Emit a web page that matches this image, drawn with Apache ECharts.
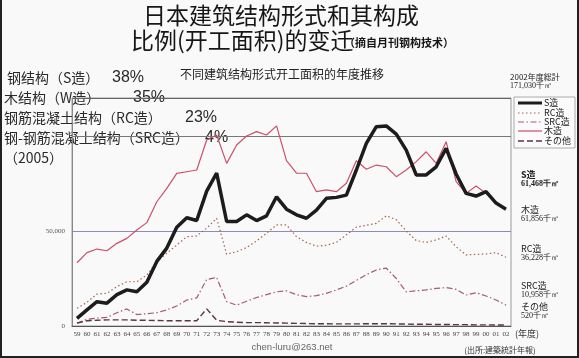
<!DOCTYPE html>
<html><head><meta charset="utf-8">
<script src="https://cdn.jsdelivr.net/npm/echarts@6/dist/echarts.min.js"></script>
<style>html,body{margin:0;padding:0;background:#f9f9f9}#c{width:579px;height:358px}</style>
</head><body><div id="c"></div>
<script>
const years = ['59','60','61','62','63','64','65','66','67','68','69','70','71','72','73','74','75','76','77','78','79','80','81','82','83','84','85','86','87','88','89','90','91','92','93','94','95','96','97','98','99','00','01','02'];
const steelS = [4000,8500,12800,12000,16500,19000,18000,23000,34000,41000,52000,57000,55500,71000,80500,55000,55000,58500,55500,58000,68000,61500,58500,56700,61000,67200,67700,68900,82100,96100,104900,105300,101000,92600,79500,79500,83800,93500,80000,69800,68400,70700,64700,61500];
const woodW = [33300,38600,40500,39600,43500,46100,50500,54400,65400,72400,80300,81200,82100,97900,100500,85600,95300,100000,102300,100500,105300,87000,80400,80400,70700,71600,70700,75100,87000,82500,84700,83800,78600,82100,86500,91700,85600,97000,76000,69800,73700,69800,64600,61900];
const rcValues = [9300,12500,16800,17200,20700,23300,23300,26800,33800,38300,42600,47000,47400,51500,56700,37800,39100,41300,44800,48800,53200,53200,47000,44000,42000,42500,44000,48000,52000,53000,54000,58000,56000,50000,45000,44000,45300,47400,41700,37400,37700,37900,38600,36200];
const srcValues = [1500,3500,4200,4500,7000,9000,6000,6500,7000,8500,10500,13700,14800,24500,25500,12800,11000,13000,15000,16500,18000,18500,16500,15500,16000,17200,19000,21000,24000,27000,29500,30500,25000,18000,18500,19000,19800,20200,19300,16300,17500,15800,13700,11000];
const otherValues = [1500,2800,3000,3200,3200,3200,3000,3000,2900,2800,2800,2800,2800,9000,3000,2300,2000,1800,1800,1700,1600,1500,1400,1300,1200,1200,1100,1100,1100,1200,1200,1200,1100,1000,900,900,800,800,700,700,600,600,550,520];
const seriesNames = ['S造','RC造','SRC造','木造','その他'];
const yTickLabels = {0:'0', 50000:'50,000'};
const endLabels = [
  ['S造','61,468千㎡'],
  ['木造','61,856千㎡'],
  ['RC造','36,228千㎡'],
  ['SRC造','10,958千㎡'],
  ['その他','520千㎡']
];
const leftNotes = [
  ['钢结构（S造）','38%'],
  ['木结构（W造）','35%'],
  ['钢筋混凝土结构（RC造）','23%'],
  ['钢-钢筋混凝土结构（SRC造）','4%'],
  ['（2005）','']
];

const styles = {
  'S造':   {color:'#1c1c1c', width:3.5, type:'solid'},
  'RC造':  {color:'#a8624e', width:1.2, type:[1.5,2.5]},
  'SRC造': {color:'#a55a72', width:1.2, type:[6,2.5,1.5,2.5]},
  '木造':  {color:'#cc4f6b', width:1.2, type:'solid'},
  'その他':{color:'#5d3346', width:1.4, type:[6,3]}
};

const chart = echarts.init(document.getElementById('c'));
const cjk = '"Noto Sans CJK SC", "Noto Sans", sans-serif';
const jp = '"Noto Sans CJK JP", sans-serif';
const serif = '"Liberation Serif", "DejaVu Serif", serif';

const graphics = [];
graphics.push({type:'line', shape:{x1:1,y1:0,x2:1,y2:357}, style:{stroke:'#222',lineWidth:2}});
graphics.push({type:'line', shape:{x1:578,y1:0,x2:578,y2:357}, style:{stroke:'#222',lineWidth:2}});
graphics.push({type:'line', shape:{x1:0,y1:357,x2:579,y2:357}, style:{stroke:'#222',lineWidth:2}});
graphics.push({type:'text', style:{text:'日本建筑结构形式和其构成', x:281, y:15, font:'23px '+cjk, fill:'#161616', align:'center', verticalAlign:'middle'}});
graphics.push({type:'text', style:{text:'比例(开工面积)的变迁', x:131, y:40, font:'23px '+cjk, fill:'#161616', align:'left', verticalAlign:'middle'}});
graphics.push({type:'text', style:{text:'（摘自月刊钢构技术）', x:344, y:43, font:'bold 11px '+cjk, fill:'#161616', align:'left', verticalAlign:'middle'}});
const noteY = [78, 98, 118, 138, 158];
const pctX = [112, 133, 185, 205, 0];
leftNotes.forEach((n,i)=>{
  graphics.push({type:'text', style:{text:n[0], x:i===0?7:4, y:noteY[i], font:'14px '+cjk, fill:'#2a2a2a', align:'left', verticalAlign:'middle'}});
  if(n[1]) graphics.push({type:'text', style:{text:n[1], x:pctX[i], y:noteY[i], font:'16px "Liberation Sans", sans-serif', fill:'#2a2a2a', align:'left', verticalAlign:'middle'}});
});
graphics.push({type:'text', style:{text:'不同建筑结构形式开工面积的年度推移', x:180, y:74, font:'12px '+jp, fill:'#222', align:'left', verticalAlign:'middle'}});
graphics.push({type:'text', style:{text:'2002年度総計', x:510, y:77, font:'8px '+jp, fill:'#222', align:'left', verticalAlign:'middle'}});
graphics.push({type:'text', style:{text:'171,030千㎡', x:510, y:86, font:'8px '+serif, fill:'#222', align:'left', verticalAlign:'middle'}});
// legend box
graphics.push({type:'rect', shape:{x:514, y:97, width:61, height:51}, style:{fill:'#fbfbfb', stroke:'#aaa', lineWidth:1}, z:10});
const legY = [103, 113, 122, 131, 141];
seriesNames.forEach((nm,i)=>{
  const s = styles[nm];
  graphics.push({type:'line', shape:{x1:518, y1:legY[i], x2:542, y2:legY[i]}, style:{stroke:s.color, lineWidth:nm==='S造'?3:s.width, lineDash:Array.isArray(s.type)?s.type:null}, z:11});
  graphics.push({type:'text', style:{text:nm, x:544, y:legY[i], font:'9px '+jp, fill:'#222', align:'left', verticalAlign:'middle'}, z:11});
});
const endY = [175, 210, 249, 286, 307];
endLabels.forEach((e,i)=>{
  const bold = i===0 ? 'bold ' : '';
  graphics.push({type:'text', style:{text:e[0], x:521, y:endY[i], font:bold+'9px '+jp, fill:'#222', align:'left', verticalAlign:'middle'}});
  graphics.push({type:'text', style:{text:e[1], x:521, y:endY[i]+9, font:bold+'8px '+serif, fill:'#222', align:'left', verticalAlign:'middle'}});
});
graphics.push({type:'text', style:{text:'(年度)', x:515, y:334, font:'9px '+jp, fill:'#333', align:'left', verticalAlign:'middle'}});
graphics.push({type:'text', style:{text:'chen-luru@263.net', x:292, y:347, font:'9.5px "Liberation Sans", sans-serif', fill:'#666', align:'center', verticalAlign:'middle'}});
graphics.push({type:'text', style:{text:'(出所:建築統計年報)', x:500, y:350, font:'8px '+jp, fill:'#333', align:'center', verticalAlign:'middle'}});

function mk(name, data){
  const s = styles[name];
  return {name, type:'line', data, symbol:'none', smooth:false, z: name==='S造'?5:3,
    lineStyle:{color:s.color, width:s.width, type:s.type}, itemStyle:{color:s.color}};
}

chart.setOption({
  backgroundColor:'#f9f9f9',
  animation:false,
  grid:{left:72, right:68, top:98, bottom:32, show:true, borderColor:'#9a9a9a', borderWidth:1},
  xAxis:{type:'category', data:years, boundaryGap:true,
    axisLine:{lineStyle:{color:'#555'}}, axisTick:{show:false},
    axisLabel:{interval:0, fontSize:7, fontFamily:serif, color:'#444', margin:5}},
  yAxis:{type:'value', min:0, max:120000, interval:50000,
    axisLine:{show:true, lineStyle:{color:'#888'}}, axisTick:{show:false},
    axisLabel:{fontSize:7, fontFamily:serif, color:'#555', margin:7, showMaxLabel:false,
      formatter:v=> (yTickLabels[v]!==undefined ? yTickLabels[v] : '')},
    splitLine:{show:true, lineStyle:{color:['#666','#8e8cb5','#777'], width:1}}},
  series:[
    mk('S造', steelS),
    mk('RC造', rcValues),
    mk('SRC造', srcValues),
    mk('木造', woodW),
    mk('その他', otherValues)
  ],
  graphic:graphics
});
</script></body></html>
